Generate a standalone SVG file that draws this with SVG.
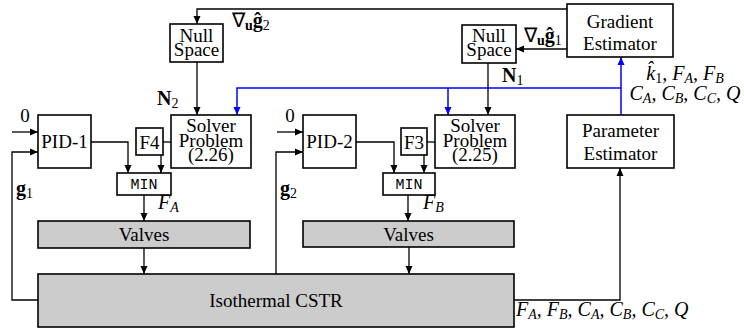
<svg xmlns="http://www.w3.org/2000/svg" width="744" height="330" viewBox="0 0 744 330">
<style>
.box{fill:#fff;stroke:#000;stroke-width:1.6}
.gray{fill:#cccccc;stroke:#000;stroke-width:1.6}
.t{font-family:"Liberation Serif","Times New Roman",serif;font-size:19px;fill:#000;text-anchor:middle}
.m{font-family:"Liberation Serif","Times New Roman",serif;font-size:20px;fill:#000;font-style:italic}
.mono{font-family:"Liberation Mono","Courier New",monospace;font-size:15px;fill:#000;text-anchor:middle}
.c{fill:none;stroke:#000;stroke-width:1.3}
.b{fill:none;stroke:#0000ff;stroke-width:1.5}
.sub{font-size:14px}
.up{font-style:normal}
.bd{font-weight:bold;font-style:normal}
</style>
<defs>
<marker id="ah" markerUnits="userSpaceOnUse" markerWidth="9" markerHeight="8" refX="8" refY="4" orient="auto"><path d="M0,0.5 L8,4 L0,7.5 z" fill="#000"/></marker>
<marker id="ahb" markerUnits="userSpaceOnUse" markerWidth="9" markerHeight="8" refX="8" refY="4" orient="auto"><path d="M0,0.5 L8,4 L0,7.5 z" fill="#0000ff"/></marker>
</defs>
<rect width="744" height="330" fill="#fff"/>

<g id="connectors">
<path class="c" d="M567,9 H197 V24" marker-end="url(#ah)"/>
<path class="c" d="M567,49 H516" marker-end="url(#ah)"/>
<path class="c" d="M197,62 V115" marker-end="url(#ah)"/>
<path class="c" d="M488,63 V115" marker-end="url(#ah)"/>
<path class="b" d="M621,115 V57" marker-end="url(#ahb)"/>
<path class="b" d="M621,88 H237 V115" marker-end="url(#ahb)"/>
<path class="b" d="M448,88 V115" marker-end="url(#ahb)"/>
<path class="c" d="M12,132 H38" marker-end="url(#ah)"/>
<path class="c" d="M38,300 H12 V152 H38" marker-end="url(#ah)"/>
<path class="c" d="M91,142 H128 V173" marker-end="url(#ah)"/>
<path class="c" d="M163,142 H171"/>
<path class="c" d="M161,155 V173" marker-end="url(#ah)"/>
<path class="c" d="M144,195 V221" marker-end="url(#ah)"/>
<path class="c" d="M144,248 V274" marker-end="url(#ah)"/>
<path class="c" d="M277,132 H303" marker-end="url(#ah)"/>
<path class="c" d="M276,274 V152 H303" marker-end="url(#ah)"/>
<path class="c" d="M356,142 H394 V173" marker-end="url(#ah)"/>
<path class="c" d="M427,142 H435"/>
<path class="c" d="M424,155 V173" marker-end="url(#ah)"/>
<path class="c" d="M408,195 V221" marker-end="url(#ah)"/>
<path class="c" d="M409,247 V274" marker-end="url(#ah)"/>
<path class="c" d="M514,300 H620 V168" marker-end="url(#ah)"/>
</g>

<g id="labels">
<text class="m" x="232" y="27"><tspan class="up">∇</tspan><tspan class="bd sub" dy="3">u</tspan><tspan class="bd" dy="-3">ĝ</tspan><tspan class="up sub" dy="3">2</tspan></text>
<text class="m" x="524" y="42"><tspan class="up">∇</tspan><tspan class="bd sub" dy="3">u</tspan><tspan class="bd" dy="-3">ĝ</tspan><tspan class="up sub" dy="3">1</tspan></text>
<text class="m" x="502" y="82"><tspan class="bd">N</tspan><tspan class="up sub" dy="3">1</tspan></text>
<text class="m" x="157" y="105"><tspan class="bd">N</tspan><tspan class="up sub" dy="3">2</tspan></text>
<text class="t" x="25" y="122">0</text>
<text class="t" x="290" y="122">0</text>
<text class="m" x="16" y="195"><tspan class="bd">g</tspan><tspan class="up sub" dy="3">1</tspan></text>
<text class="m" x="280" y="195"><tspan class="bd">g</tspan><tspan class="up sub" dy="3">2</tspan></text>
<text class="m" x="158" y="209">F<tspan class="sub" dy="3">A</tspan></text>
<text class="m" x="423" y="209">F<tspan class="sub" dy="3">B</tspan></text>
<text class="m" x="685" y="80" text-anchor="middle">k̂<tspan class="up sub" dy="3">1</tspan><tspan dy="-3">, F</tspan><tspan class="sub" dy="3">A</tspan><tspan dy="-3">, F</tspan><tspan class="sub" dy="3">B</tspan></text>
<text class="m" x="685" y="100" text-anchor="middle">C<tspan class="sub" dy="3">A</tspan><tspan dy="-3">, C</tspan><tspan class="sub" dy="3">B</tspan><tspan dy="-3">, C</tspan><tspan class="sub" dy="3">C</tspan><tspan dy="-3">, Q</tspan></text>
<text class="m" x="516" y="316">F<tspan class="sub" dy="3">A</tspan><tspan dy="-3">, F</tspan><tspan class="sub" dy="3">B</tspan><tspan dy="-3">, C</tspan><tspan class="sub" dy="3">A</tspan><tspan dy="-3">, C</tspan><tspan class="sub" dy="3">B</tspan><tspan dy="-3">, C</tspan><tspan class="sub" dy="3">C</tspan><tspan dy="-3">, Q</tspan></text>
</g>

<g id="nullspace2"><rect class="box" x="170" y="24" width="53" height="38"/><text class="t" x="196.5" y="42">Null</text><text class="t" x="196.5" y="56">Space</text></g>
<g id="nullspace1"><rect class="box" x="462" y="25" width="54" height="38"/><text class="t" x="489" y="42">Null</text><text class="t" x="489" y="56">Space</text></g>
<g id="gradient"><rect class="box" x="567" y="4" width="106" height="53"/><text class="t" x="620" y="28">Gradient</text><text class="t" x="620" y="50">Estimator</text></g>
<g id="parameter"><rect class="box" x="567" y="115" width="107" height="53"/><text class="t" x="620.5" y="137">Parameter</text><text class="t" x="620.5" y="160">Estimator</text></g>
<g id="pid1"><rect class="box" x="38" y="115" width="53" height="53"/><text class="t" x="64.5" y="148">PID-1</text></g>
<g id="pid2"><rect class="box" x="303" y="115" width="53" height="53"/><text class="t" x="329.5" y="148">PID-2</text></g>
<g id="f4"><rect class="box" x="136" y="128" width="27" height="27"/><text class="t" x="149.5" y="149">F4</text></g>
<g id="f3"><rect class="box" x="401" y="128" width="26" height="27"/><text class="t" x="414" y="149">F3</text></g>
<g id="solver226"><rect class="box" x="171" y="115" width="80" height="53"/><text class="t" x="211" y="132">Solver</text><text class="t" x="211" y="147">Problem</text><text class="t" x="211" y="161">(2.26)</text></g>
<g id="solver225"><rect class="box" x="435" y="115" width="80" height="53"/><text class="t" x="475" y="132">Solver</text><text class="t" x="475" y="147">Problem</text><text class="t" x="475" y="161">(2.25)</text></g>
<g id="min1"><rect class="box" x="117" y="173" width="54" height="22"/><text class="mono" x="144" y="189">MIN</text></g>
<g id="min2"><rect class="box" x="383" y="173" width="52" height="22"/><text class="mono" x="409" y="189">MIN</text></g>
<g id="valves1"><rect class="gray" x="38" y="221" width="212" height="27"/><text class="t" x="144" y="241">Valves</text></g>
<g id="valves2"><rect class="gray" x="303" y="221" width="211" height="26"/><text class="t" x="408.5" y="241">Valves</text></g>
<g id="cstr"><rect class="gray" x="38" y="274" width="476" height="53"/><text class="t" x="276" y="307">Isothermal CSTR</text></g>
</svg>
